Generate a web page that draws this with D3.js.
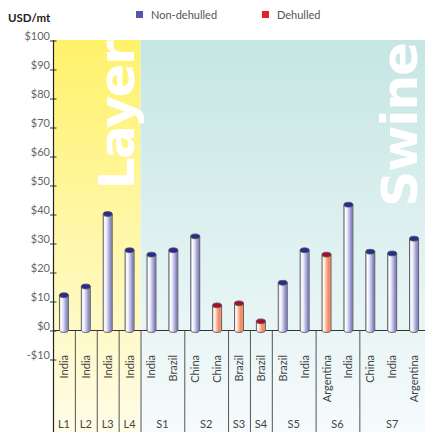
<!DOCTYPE html>
<html><head><meta charset="utf-8">
<script src="https://cdn.jsdelivr.net/npm/d3@7"></script>
<style>body{margin:0;background:#fff}svg{display:block}</style>
</head><body>
<svg id="c" width="425" height="432"></svg>
<script>
const groups = ["L1","L2","L3","L4","S1","S1","S2","S2","S3","S4","S5","S5","S6","S6","S7","S7","S7"];
const countries = ["India","India","India","India","India","Brazil","China","China","Brazil","Brazil","Brazil","India","Argentina","India","China","India","Argentina"];
const values = [12,15,40,27.5,26,27.5,32.3,8.5,9.2,3,16.3,27.5,26,43.2,27,26.4,31.5];
const types = ["N","N","N","N","N","N","N","D","D","D","N","N","D","N","N","N","N"];
const yTicks = [-10,0,10,20,30,40,50,60,70,80,90,100];
const sections = [{name:"Layer", from:0, to:4}, {name:"Swine", from:4, to:17}];
const legend = [{key:"N", label:"Non-dehulled"},{key:"D", label:"Dehulled"}];

(function(){
const svg = d3.select("#c");
const W = 425, H = 432;
const pLeft = 53, pRight = 425, pTop = 40;
const idx = d3.range(values.length);
const x = d3.scaleBand().domain(idx).range([pLeft, pRight]).padding(0);
const y = d3.scaleLinear().domain([-10, 100]).range([359, 40]);
const font = "Lato, 'Open Sans', sans-serif";
const secEnd = d => (d.to < values.length ? x(d.to) : pRight);

const defs = svg.append("defs");
function vgrad(id, c1, c2){
  const g = defs.append("linearGradient").attr("id", id).attr("x1",0).attr("y1",0).attr("x2",0).attr("y2",1);
  g.append("stop").attr("offset","0%").attr("stop-color",c1);
  g.append("stop").attr("offset","100%").attr("stop-color",c2);
}
vgrad("bgL", "#fff26a", "#fffce8");
vgrad("bgS", "#c5e6e3", "#f6fbfc");
function hgrad(id, stops){
  const g = defs.append("linearGradient").attr("id", id).attr("x1",0).attr("y1",0).attr("x2",1).attr("y2",0);
  stops.forEach(s => g.append("stop").attr("offset", s[0]).attr("stop-color", s[1]));
}
hgrad("barN", [["0%","#c8c8e4"],["18%","#ffffff"],["40%","#e4e4f4"],["62%","#b4b4de"],["85%","#8585c4"],["100%","#a0a0d2"]]);
hgrad("barD", [["0%","#f0c8b8"],["18%","#ffffff"],["42%","#fcc4a8"],["70%","#f38860"],["100%","#f6a080"]]);
const capColor = {N:"#2b2b8e", D:"#a3102e"};
const legColor = {N:"#5656a8", D:"#e52028"};

svg.selectAll("rect.bg").data(sections).join("rect")
  .attr("x", d => x(d.from))
  .attr("y", pTop)
  .attr("width", d => secEnd(d) - x(d.from))
  .attr("height", H - pTop)
  .attr("fill", (d,i) => i === 0 ? "url(#bgL)" : "url(#bgS)");

svg.selectAll("text.sec").data(sections).join("text")
  .attr("transform", (d,i) => {
    const bx = i === 0 ? secEnd(d) - 7 : secEnd(d) - 8;
    return `translate(${bx},${i === 0 ? 42 : 43}) rotate(-90)`;
  })
  .attr("text-anchor", "end")
  .attr("font-family", "'DejaVu Sans', sans-serif")
  .attr("font-weight", "bold")
  .attr("font-size", 50)
  .attr("letter-spacing", (d,i) => i === 0 ? -1.6 : -1)
  .attr("fill", "#ffffff")
  .text(d => d.name);

const boundaries = [];
for (let i = 1; i < groups.length; i++) if (groups[i] !== groups[i-1]) boundaries.push(i);
svg.selectAll("line.sep").data(boundaries).join("line")
  .attr("x1", d => x(d) + 0.5).attr("x2", d => x(d) + 0.5)
  .attr("y1", y(0)).attr("y2", H)
  .attr("stroke", "#555").attr("stroke-width", 1);

const grpList = [];
groups.forEach((g,i) => {
  const last = grpList[grpList.length-1];
  if (last && last.name === g) last.to = i; else grpList.push({name:g, from:i, to:i});
});
svg.selectAll("text.grp").data(grpList).join("text")
  .attr("x", d => (x(d.from) + x(d.to) + x.bandwidth()) / 2)
  .attr("y", 428)
  .attr("text-anchor", "middle")
  .attr("font-family", font).attr("font-size", 11).attr("fill", "#444")
  .text(d => d.name);

svg.selectAll("text.cty").data(idx).join("text")
  .attr("transform", i => `translate(${x(i) + x.bandwidth()/2 + 4},355) rotate(-90)`)
  .attr("text-anchor", "end")
  .attr("font-family", font).attr("font-size", 11).attr("fill", "#444")
  .text(i => countries[i]);

const yAxis = d3.axisLeft(y).tickValues(yTicks).tickSize(0).tickFormat(v => (v < 0 ? "-$" : "$") + Math.abs(v));
const ag = svg.append("g").attr("transform", `translate(${pLeft},0)`).call(yAxis);
ag.select(".domain").remove();
ag.selectAll(".tick text").attr("x", -3).attr("dy", "-0.05em")
  .attr("font-family", font).attr("font-size", 11).attr("fill", "#666");
ag.selectAll(".tick").append("line").attr("x1", -3).attr("x2", 3.5).attr("y1", 0.5).attr("y2", 0.5)
  .attr("stroke", "#333").attr("stroke-width", 1);

svg.append("line").attr("x1", pLeft + 0.5).attr("x2", pLeft + 0.5).attr("y1", pTop).attr("y2", H)
  .attr("stroke", "#222").attr("stroke-width", 1.2);
svg.append("line").attr("x1", pLeft).attr("x2", pRight).attr("y1", y(0) + 0.5).attr("y2", y(0) + 0.5)
  .attr("stroke", "#333").attr("stroke-width", 1.2);

const bw = 9, ry = 2.4;
const bars = svg.selectAll("g.bar").data(idx).join("g");
bars.append("path")
  .attr("d", i => {
    const cx = x(i) + x.bandwidth()/2, xl = cx - bw/2, xr = cx + bw/2;
    const yt = y(values[i]), yb = y(0);
    return `M${xl},${yt} L${xl},${yb} A${bw/2},${ry} 0 0 0 ${xr},${yb} L${xr},${yt} Z`;
  })
  .attr("fill", i => types[i] === "N" ? "url(#barN)" : "url(#barD)")
  .attr("stroke", "#555").attr("stroke-width", 0.9);
bars.append("ellipse")
  .attr("cx", i => x(i) + x.bandwidth()/2)
  .attr("cy", i => y(values[i]))
  .attr("rx", bw/2).attr("ry", ry)
  .attr("fill", i => capColor[types[i]])
  .attr("stroke", "#555").attr("stroke-width", 0.8);

svg.append("text").attr("x", 8).attr("y", 22)
  .attr("font-family", font).attr("font-weight", "bold").attr("font-size", 11.5).attr("fill", "#222")
  .text("USD/mt");

const lx = [136, 262];
const lg = svg.selectAll("g.leg").data(legend).join("g")
  .attr("transform", (d,i) => `translate(${lx[i]},11)`);
lg.append("rect").attr("width", 7).attr("height", 7).attr("fill", d => legColor[d.key]);
lg.append("text").attr("x", 15).attr("y", 7.5)
  .attr("font-family", font).attr("font-size", 11).attr("fill", "#555")
  .text(d => d.label);
})();
</script>
</body></html>
